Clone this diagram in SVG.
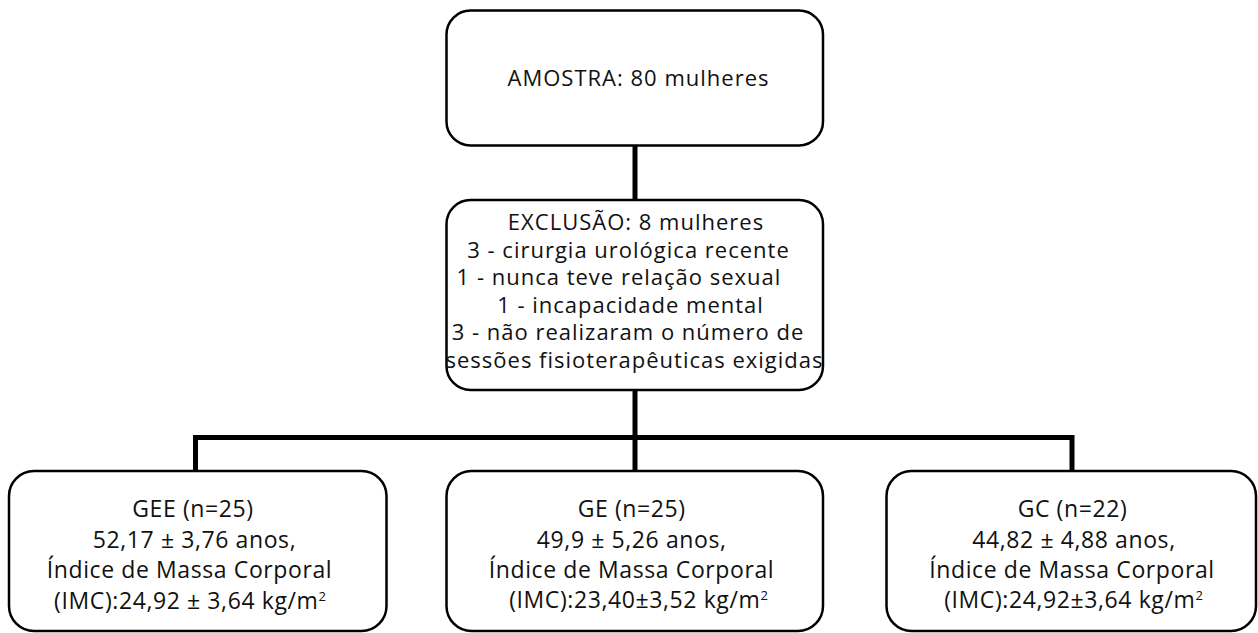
<svg xmlns="http://www.w3.org/2000/svg" width="1258" height="633" viewBox="0 0 1258 633">
<style>
.box{fill:#fff;stroke:#000;stroke-width:2.5}
.conn{fill:none;stroke:#000;stroke-width:5;stroke-linecap:butt}
text{font-family:"Open Sans","Noto Sans",sans-serif;fill:#111;text-anchor:middle}
.t1{font-size:22px;letter-spacing:1px}
.t2{font-size:23px;letter-spacing:0.6px}
.sup{font-size:13px;letter-spacing:0}
</style>
<rect width="1258" height="633" fill="#fff"/>
<g id="connectors">
<line class="conn" x1="635" y1="146" x2="635" y2="200"/>
<line class="conn" x1="635" y1="390" x2="635" y2="471"/>
<polyline class="conn" points="195.5,471 195.5,437.5 1072,437.5 1072,471"/>
</g>
<g id="amostra">
<rect class="box" x="446.5" y="10.5" width="376.5" height="135" rx="24" ry="24"/>
<text class="t1" x="638.5" y="86">AMOSTRA: 80 mulheres</text>
</g>
<g id="exclusao">
<rect class="box" x="446.5" y="200" width="376.5" height="190" rx="24" ry="24"/>
<text class="t1" x="636" y="230">EXCLUSÃO: 8 mulheres</text>
<text class="t1" x="628.5" y="257.6">3 - cirurgia urológica recente</text>
<text class="t1" x="619" y="285.2">1 - nunca teve relação sexual</text>
<text class="t1" x="630.5" y="312.8">1 - incapacidade mental</text>
<text class="t1" x="628" y="340.4">3 - não realizaram o número de</text>
<text class="t1" x="634.5" y="368">sessões fisioterapêuticas exigidas</text>
</g>
<g id="gee">
<rect class="box" x="9" y="471" width="377.5" height="160" rx="25" ry="25"/>
<text class="t2" x="193" y="516.7">GEE (n=25)</text>
<text class="t2" x="194.5" y="548.3">52,17 ± 3,76 anos,</text>
<text class="t2" x="189.5" y="578.3">Índice de Massa Corporal</text>
<text class="t2" x="190" y="609">(IMC):24,92 ± 3,64 kg/m<tspan class="sup" dy="-8">2</tspan></text>
</g>
<g id="ge">
<rect class="box" x="446.5" y="471" width="376.5" height="160" rx="25" ry="25"/>
<text class="t2" x="631.7" y="516.7">GE (n=25)</text>
<text class="t2" x="631.7" y="548">49,9 ± 5,26 anos,</text>
<text class="t2" x="631.5" y="577.7">Índice de Massa Corporal</text>
<text class="t2" x="638.5" y="608">(IMC):23,40±3,52 kg/m<tspan class="sup" dy="-8">2</tspan></text>
</g>
<g id="gc">
<rect class="box" x="886.5" y="471" width="369.5" height="160" rx="25" ry="25"/>
<text class="t2" x="1072.5" y="516.7">GC (n=22)</text>
<text class="t2" x="1074" y="548">44,82 ± 4,88 anos,</text>
<text class="t2" x="1072" y="577.7">Índice de Massa Corporal</text>
<text class="t2" x="1073.5" y="608">(IMC):24,92±3,64 kg/m<tspan class="sup" dy="-8">2</tspan></text>
</g>
</svg>
